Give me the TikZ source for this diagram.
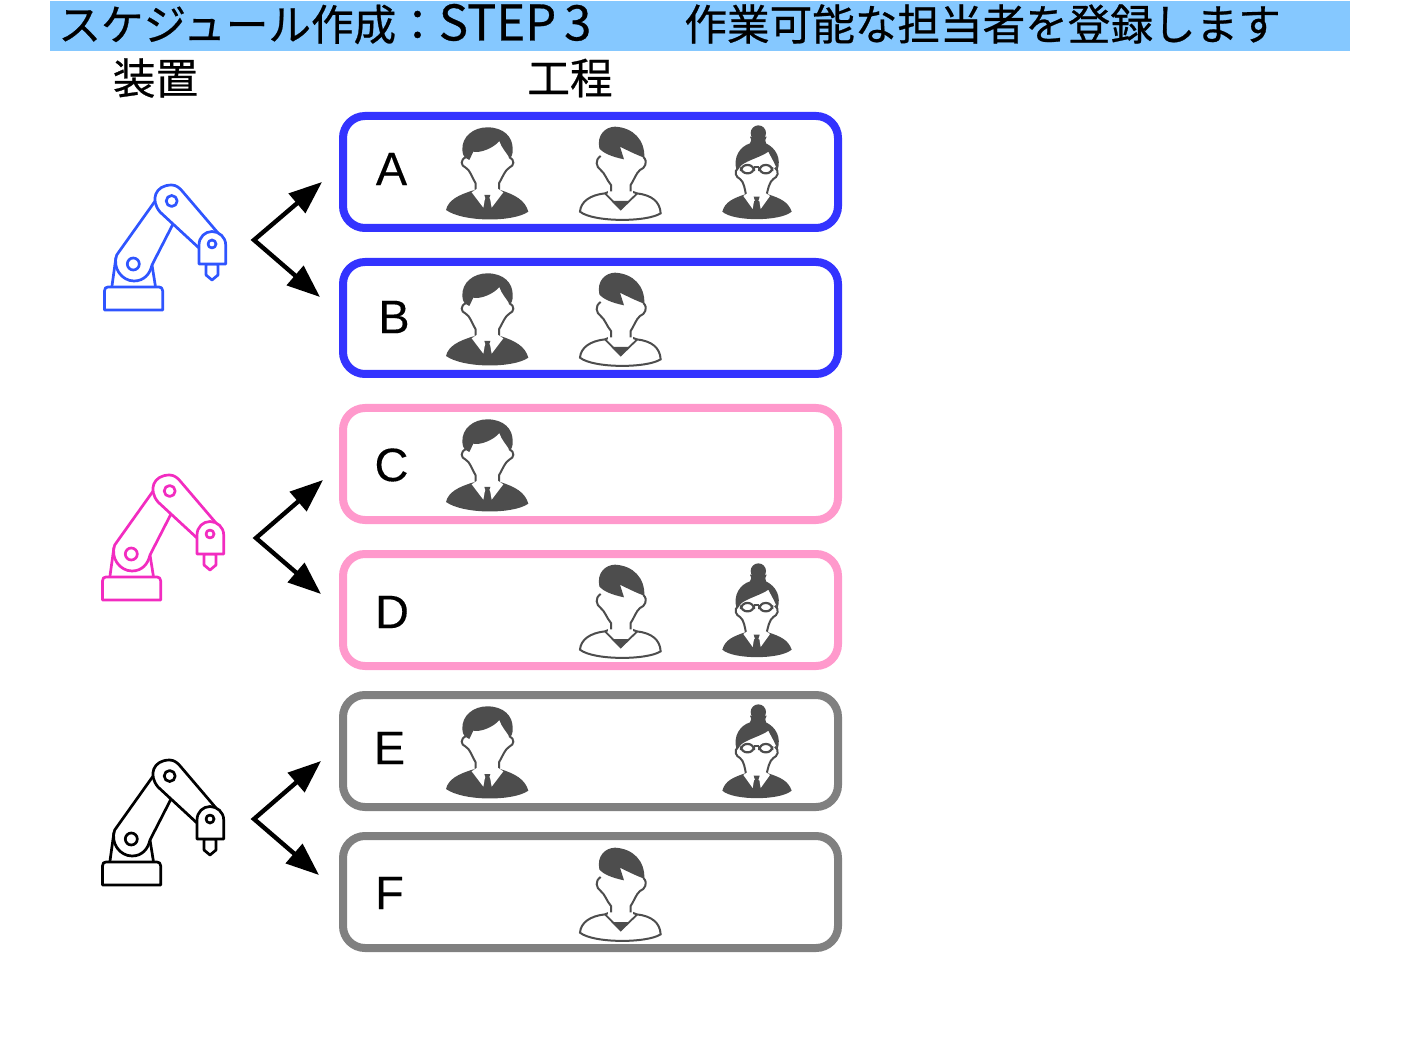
\documentclass[tikz,border=0pt]{standalone}
\usepackage{fontspec}
\setmainfont[FakeBold=0.2]{Liberation Sans}
\newfontfamily\jpfont[FakeBold=0.6]{Noto Sans CJK JP}
\usetikzlibrary{positioning,arrows.meta}
\definecolor{headerblue}{HTML}{85C8FF}
\definecolor{boxblue}{HTML}{3333FF}
\definecolor{boxpink}{HTML}{FF99CC}
\definecolor{boxgrey}{HTML}{808080}
\definecolor{robotblue}{HTML}{2F55FF}
\definecolor{robotpink}{HTML}{F22CC0}
\definecolor{persongrey}{HTML}{4D4D4D}
\tikzset{
  procbox/.style={rectangle, rounded corners=11pt, line width=4pt, minimum width=247.5pt, minimum height=56pt, inner sep=0pt},
  letter/.style={inner sep=0pt, font=\fontsize{23.5}{26}\selectfont},
  heading/.style={inner sep=0pt, font=\jpfont\fontsize{21.3}{24}\selectfont},
  fork/.style={line width=2.2pt, {Triangle[length=16.5pt,width=12.5pt]}-{Triangle[length=16.5pt,width=12.5pt]}},
  robotline/.style={line width=1.35pt, fill=white, line join=round},
  faceline/.style={line width=1pt, draw=persongrey},
  pics/suitman/.style={code={
    \fill[white] (105,128) -- (240,128) -- (207,228) -- (137,228) -- cycle;
    \draw[faceline] (108,126) .. controls (90,135) and (92,152) .. (107,158) .. controls (120,165) and (125,185) .. (137,205) -- (137,228);
    \draw[faceline] (238,126) .. controls (255,135) and (253,152) .. (238,158) .. controls (225,165) and (217,188) .. (207,205) -- (207,228);
    \fill[persongrey] (118,135) .. controls (105,128) and (98,125) .. (97,105) .. controls (95,65) and (130,37) .. (172,37) .. controls (220,37) and (250,65) .. (248,105) .. controls (248,118) and (245,125) .. (240,132) .. controls (232,115) and (215,100) .. (208,78) .. controls (190,100) and (150,115) .. (130,110) -- cycle;
    \fill[persongrey] (48,285) .. controls (55,255) and (85,240) .. (130,226) -- (214,226) .. controls (255,240) and (285,255) .. (295,290) .. controls (250,322) and (100,322) .. (48,285) -- cycle;
    \fill[white] (125,232) -- (140,222) -- (205,222) -- (220,232) -- (185,278) -- (180,250) -- (165,250) -- (160,278) -- cycle;
    \fill[persongrey] (163,240) -- (181,240) -- (177,252) -- (180,290) -- (164,290) -- (167,252) -- cycle;
  }},
  pics/casualman/.style={code={
    \fill[white] (512,125) -- (640,128) -- (602,228) -- (543,228) -- cycle;
    \draw[faceline, fill=white] (450,290) .. controls (452,260) and (480,240) .. (525,235) -- (543,228) -- (602,228) -- (620,235) .. controls (665,240) and (690,260) .. (692,295) .. controls (650,322) and (490,322) .. (450,290) -- cycle;
    \fill[white] (535,215) rectangle (610,236);
    \draw[faceline] (512,123) .. controls (494,135) and (498,155) .. (512,165) .. controls (525,175) and (530,195) .. (543,210) -- (543,229);
    \draw[faceline] (640,126) .. controls (655,140) and (645,160) .. (630,165) .. controls (618,175) and (612,195) .. (602,210) -- (602,229);
    \draw[line width=.9pt, draw=persongrey] (525,235) -- (572,283) -- (622,235);
    \fill[persongrey] (548,258) -- (598,258) -- (572,285) -- cycle;
    \fill[persongrey] (508,100) .. controls (500,60) and (525,36) .. (555,35) .. controls (610,38) and (645,75) .. (643,128) .. controls (620,120) and (590,105) .. (570,95) -- (582,133) .. controls (545,125) and (520,115) .. (508,100) -- cycle;
  }},
  pics/glasseswoman/.style={code={
    \fill[white] (145,160) -- (255,160) -- (230,240) -- (168,240) -- cycle;
    \draw[faceline] (145,158) .. controls (130,170) and (138,187) .. (150,192) .. controls (162,200) and (165,225) .. (168,240);
    \draw[faceline] (255,158) .. controls (270,170) and (262,187) .. (250,192) .. controls (238,200) and (233,225) .. (230,240);
    \fill[persongrey] (205,54) circle [radius=23];
    \fill[persongrey] (140,168) .. controls (128,125) and (150,95) .. (180,85) .. controls (185,78) and (185,72) .. (180,65) -- (230,65) .. controls (225,72) and (225,78) .. (228,85) .. controls (258,100) and (275,130) .. (262,168) .. controls (258,150) and (245,130) .. (235,110) .. controls (215,125) and (175,135) .. (155,150) -- cycle;
    \draw[line width=1.1pt, draw=persongrey, fill=white, rounded corners=3pt] (153,150) rectangle (192,175);
    \draw[line width=1.1pt, draw=persongrey, fill=white, rounded corners=3pt] (208,150) rectangle (247,175);
    \draw[line width=1.1pt, draw=persongrey] (192,157) -- (208,157);
    \fill[persongrey] (97,290) .. controls (105,260) and (130,250) .. (165,238) -- (235,238) .. controls (270,250) and (295,260) .. (305,290) .. controls (270,320) and (130,320) .. (97,290) -- cycle;
    \fill[white] (160,243) -- (172,235) -- (228,235) -- (240,243) -- (212,282) -- (208,258) -- (192,258) -- (188,282) -- cycle;
    \fill[persongrey] (191,245) -- (209,245) -- (205,258) -- (208,292) -- (192,292) -- (195,258) -- cycle;
  }},
  pics/robotarm/.style={code={
    \draw[robotline] (116,257) -- (111.7,288) -- (155.7,288) -- (152,265);
    \draw[robotline] (104.5,310) -- (104.5,291) .. controls (104.5,288) and (106,287) .. (108,287) -- (159,287) .. controls (161,287) and (162.7,288) .. (162.7,291) -- (162.7,310) -- cycle;
    \draw[robotline] (116.7,255) -- (158,197) -- (173,224) -- (152,265) .. controls (150,274) and (144,281) .. (134,281) .. controls (122,281) and (112,268) .. (116.7,255) -- cycle;
    \draw[robotline] (133.3,264) circle [radius=6];
    \draw[robotline] (160,212) .. controls (150,200) and (155,185) .. (171.7,185) .. controls (176,185) and (180,188) .. (183,192) -- (218,233) -- (199,248) -- cycle;
    \draw[robotline] (171.7,201) circle [radius=5.5];
    \draw[robotline] (206,264) -- (206,275) -- (212,280) -- (218,275) -- (218,264) -- cycle;
    \draw[robotline] (199,264) -- (199,245) .. controls (199,237) and (205,231.5) .. (212,231.5) .. controls (219,231.5) and (225.7,237) .. (225.7,245) -- (225.7,264) -- cycle;
    \draw[robotline] (212,244) circle [radius=4];
  }}
}
\begin{document}
\begin{tikzpicture}[x=.5pt, y=-.5pt, node distance=13pt]
  \useasboundingbox (0,0) rectangle (1411,1058);
  % header
  \fill[headerblue] (50,1) rectangle (1350,51);
  \node[heading, anchor=west] (titleleft) at (58,24) {スケジュール作成：{\fontsize{24.5}{24}\selectfont STEP\hspace{4pt}3}};
  \node[heading, anchor=west] (titleright) at (684,24) {作業可能な担当者を登録します};
  \node[heading] (device) at (155.5,78) {装置};
  \node[heading] (process) at (570,78) {工程};
  % process boxes
  \node[procbox, draw=boxblue] (boxa) at (590.5,172) {};
  \node[procbox, draw=boxblue, below=of boxa] (boxb) {};
  \node[procbox, draw=boxpink, below=of boxb] (boxc) {};
  \node[procbox, draw=boxpink, below=of boxc] (boxd) {};
  \node[procbox, draw=boxgrey, below=10.5pt of boxd] (boxe) {};
  \node[procbox, draw=boxgrey, below=10.5pt of boxe] (boxf) {};
  \node[letter] (lettera) at (391.5,169) {A};
  \node[letter] (letterb) at (394,317) {B};
  \node[letter] (letterc) at (391.5,465) {C};
  \node[letter] (letterd) at (392,612) {D};
  \node[letter] (lettere) at (389.5,748) {E};
  \node[letter] (letterf) at (389.5,893) {F};
  % people
  \pic[scale=1/3] at (430,115) {suitman};
  \pic[scale=1/3] at (430,115) {casualman};
  \pic[scale=1/3] at (690,115) {glasseswoman};
  \pic[scale=1/3] at (430,261) {suitman};
  \pic[scale=1/3] at (430,261) {casualman};
  \pic[scale=1/3] at (430,407) {suitman};
  \pic[scale=1/3] at (430,553) {casualman};
  \pic[scale=1/3] at (690,553) {glasseswoman};
  \pic[scale=1/3] at (430,694) {suitman};
  \pic[scale=1/3] at (690,694) {glasseswoman};
  \pic[scale=1/3] at (430,836) {casualman};
  % robots
  \pic[color=robotblue] at (0,0) {robotarm};
  \pic[color=robotpink] at (-2,290) {robotarm};
  \pic[color=black] at (-2,575) {robotarm};
  % forks
  \coordinate (forka) at (254,240);
  \coordinate (tipa) at (322,182);
  \coordinate (tipb) at (320,297);
  \coordinate (forkb) at (256,538);
  \coordinate (tipc) at (323,480);
  \coordinate (tipd) at (321,594);
  \coordinate (forkc) at (254,819);
  \coordinate (tipe) at (321,761);
  \coordinate (tipf) at (319,875);
  \draw[fork] (tipa) -- (forka) -- (tipb);
  \draw[fork] (tipc) -- (forkb) -- (tipd);
  \draw[fork] (tipe) -- (forkc) -- (tipf);
\end{tikzpicture}
\end{document}
